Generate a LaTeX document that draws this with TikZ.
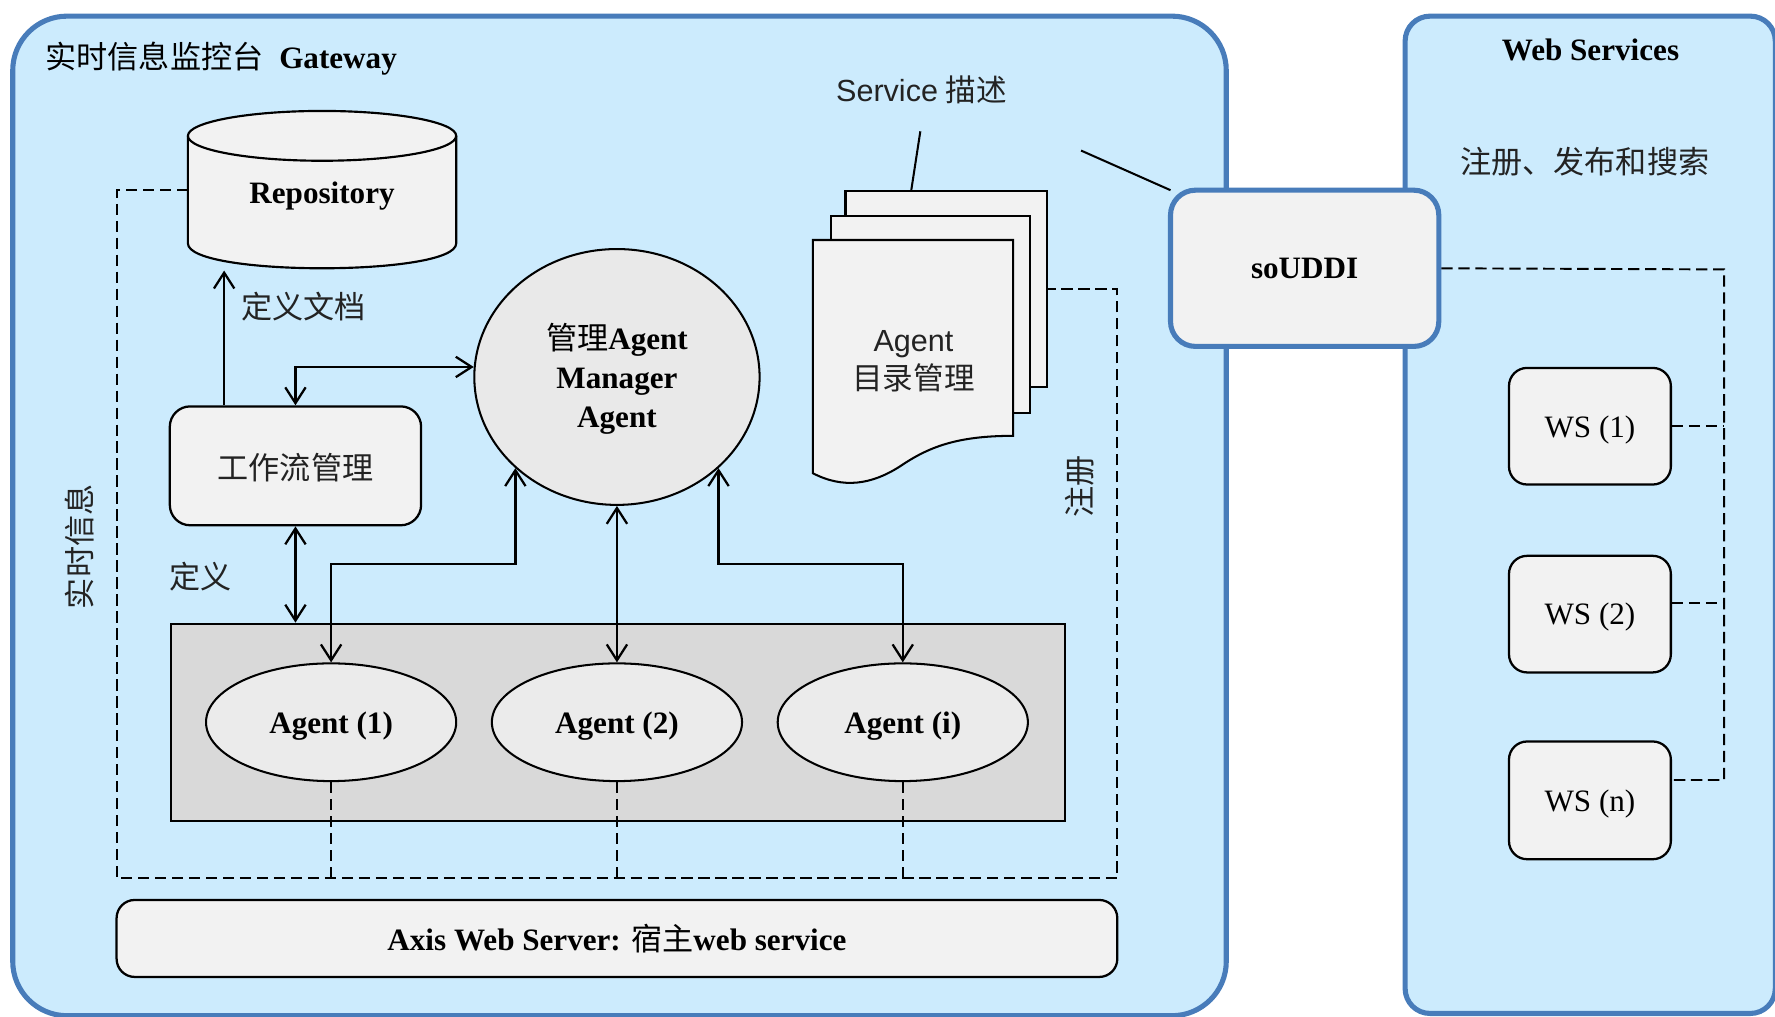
\documentclass[tikz,border=0pt]{standalone}
\usepackage{fontspec}
\setmainfont{Liberation Serif}
\newfontfamily\sansf{Liberation Sans}
\newfontfamily\cjk{Noto Sans CJK SC}
\usetikzlibrary{shapes.geometric,arrows.meta,calc}
\definecolor{gwfill}{RGB}{204,235,253}
\definecolor{gwline}{RGB}{72,124,186}
\definecolor{boxfill}{RGB}{242,242,242}
\definecolor{mgrfill}{RGB}{233,233,233}
\definecolor{agfill}{RGB}{235,235,235}
\definecolor{grayfill}{RGB}{217,217,217}
\definecolor{lbl}{RGB}{35,35,35}
\begin{document}
\begin{tikzpicture}[x=1pt,y=-1pt,
  font=\fontsize{27.5}{34}\selectfont,
  >={Straight Barb[length=14pt,width=18pt,line width=2pt]},
  bluebox/.style={draw=gwline, line width=4.5pt, fill=gwfill, rounded corners=#1, inner sep=0pt},
  graybox/.style={draw=black, line width=2pt, fill=boxfill, rounded corners=#1, inner sep=0pt},
  agentell/.style={ellipse, draw=black, line width=1.8pt, fill=agfill, minimum width=221pt, minimum height=104pt, inner sep=0pt, text depth=0pt, font=\fontsize{27.5}{34}\selectfont\bfseries},
  txt/.style={inner sep=0pt, text=lbl},
  conn/.style={draw=black, line width=2.1pt},
  dashln/.style={draw=black, line width=1.7pt, dash pattern=on 10pt off 5pt},
  page/.style={draw=black, line width=1.8pt, fill=boxfill, inner sep=0pt, anchor=north west},
]
\useasboundingbox (0,0) rectangle (1568,898);

% containers
\node[bluebox=48pt, minimum width=1072pt, minimum height=883pt, anchor=north west] (gw) at (9,12) {};
\node[bluebox=22pt, minimum width=327pt, minimum height=881pt, anchor=north west] (wsbox) at (1239,12) {};

\node[txt, anchor=west, text=black] (title) at (40,52) {{\cjk 实时信息监控台}\hspace{14pt}\textbf{Gateway}};
\node[txt, text=black, font=\fontsize{27.5}{34}\selectfont\bfseries] (wstitle) at (1405,44) {Web Services};
\node[txt] (wsdesc) at (1400,143) {\cjk 注册、发布和搜索};

% repository cylinder
\fill[boxfill] (166,120) rectangle (403,215);
\fill[boxfill] (284.5,215) ellipse (118.5 and 22);
\draw[line width=1.9pt, fill=boxfill] (284.5,120) ellipse (118.5 and 22);
\draw[line width=1.9pt] (166,120) -- (166,215) .. controls (166,244.3) and (403,244.3) .. (403,215) -- (403,120);
\node[txt, text=black, font=\fontsize{27.5}{34}\selectfont\bfseries] (rep) at (284.5,173) {Repository};
\coordinate (repw) at (166,168);
\coordinate (repb) at (198,239);

% workflow box
\node[graybox=18pt, minimum width=222pt, minimum height=105pt] (wf) at (261,411.5) {};
\node[txt] (wft) at (261,413) {\cjk 工作流管理};

% manager agent
\node[ellipse, draw=black, line width=1.8pt, fill=mgrfill, minimum width=252pt, minimum height=226pt, inner sep=0pt] (mgr) at (545,333) {};
\node[txt, text=black, align=center, font=\fontsize{27.5}{34.5}\selectfont\bfseries] (mgrt) at (545,335) {{\cjk\mdseries 管理}Agent\\Manager\\Agent};

% document stack
\node[page, minimum width=178pt, minimum height=173pt] (docback) at (746,168) {};
\node[page, minimum width=176pt, minimum height=174pt] (docmid) at (733,190) {};
\draw[line width=1.8pt, fill=boxfill] (718,212) -- (895,212) -- (895,385)
   .. controls (845,385) and (820,395) .. (795,412)
   .. controls (770,428) and (745,432) .. (718,418) -- cycle;
\node[txt, align=center, font=\fontsize{27}{34}\selectfont] (doc) at (807,319) {\sansf Agent\\{\cjk 目录管理}};

\node[txt, font=\fontsize{27}{34}\selectfont] (svc) at (814,79) {{\sansf Service} {\cjk 描述}};
\coordinate (svcl) at (813,116);
\draw[line width=1.8pt] (svcl) -- ($(docback.north west)+(59,0)$);

% soUDDI
\coordinate (uddil) at (955,133);
\draw[line width=1.8pt] (uddil) -- (1034,168);
\node[draw=gwline, line width=4.5pt, fill=boxfill, rounded corners=22pt, minimum width=237pt, minimum height=138pt, inner sep=0pt, text depth=0pt, font=\fontsize{27.5}{34}\selectfont\bfseries] (uddi) at (1152.5,237) {soUDDI};

% WS boxes
\node[graybox=16pt, minimum width=143pt, minimum height=103pt, text depth=0pt] (ws1) at (1404.5,376.5) {WS (1)};
\node[graybox=16pt, minimum width=143pt, minimum height=103pt, text depth=0pt] (ws2) at (1404.5,542.5) {WS (2)};
\node[graybox=16pt, minimum width=143pt, minimum height=104pt, text depth=0pt] (wsn) at (1404.5,707) {WS (n)};
\coordinate (bus) at (1523,238);
\draw[dashln] (uddi.east) -- (bus) -- (bus |- 0,689) -- ($(wsn.east)+(0,-18)$);
\draw[dashln] (ws1.east) -- (bus |- ws1.east);
\draw[dashln] ($(ws2.east)+(0,-9.5)$) -- (bus |- 0,533);

% gray agent area
\node[draw=black, line width=1.8pt, fill=grayfill, minimum width=790pt, minimum height=174pt, inner sep=0pt, anchor=north west] (area) at (150,550) {};
\node[agentell] (ag1) at (292.5,638) {Agent (1)};
\node[agentell] (ag2) at (545,638) {Agent (2)};
\node[agentell] (ag3) at (797.5,638) {Agent (i)};

% dashed loop
\coordinate (dl) at (103,776);
\coordinate (dr) at (987,776);
\draw[dashln] (repw) -| (dl) -- (dr) |- (docback.east);
\draw[dashln] (ag1.south) -- (ag1.south |- dl);
\draw[dashln] (ag2.south) -- (ag2.south |- dl);
\draw[dashln] (ag3.south) -- (ag3.south |- dl);

% rotated labels
\node[txt, rotate=90] (rt) at (70,483) {\cjk 实时信息};
\node[txt, rotate=90] (reg) at (954,430) {\cjk 注册};

% labels
\node[txt] (dydoc) at (268,271) {\cjk 定义文档};
\node[txt] (dy) at (177,509) {\cjk 定义};

% connectors
\draw[conn, ->] (wf.north -| repb) -- (repb);
\draw[conn, <->] (wf.north) |- (mgr.176);
\draw[conn, <->] (wf.south) -- (wf.south |- area.north);
\draw[conn, <->] (ag1.north) -- ++(0,-87) -| (mgr.south west);
\draw[conn, <->] (ag2.north) -- (mgr.south);
\draw[conn, <->] (ag3.north) -- ++(0,-87) -| (mgr.south east);

% axis server
\node[graybox=16pt, minimum width=884pt, minimum height=68pt, font=\fontsize{27.5}{34}\selectfont\bfseries] (axis) at (545,829) {Axis Web Server: {\cjk\mdseries 宿主}web service};
\end{tikzpicture}
\end{document}
